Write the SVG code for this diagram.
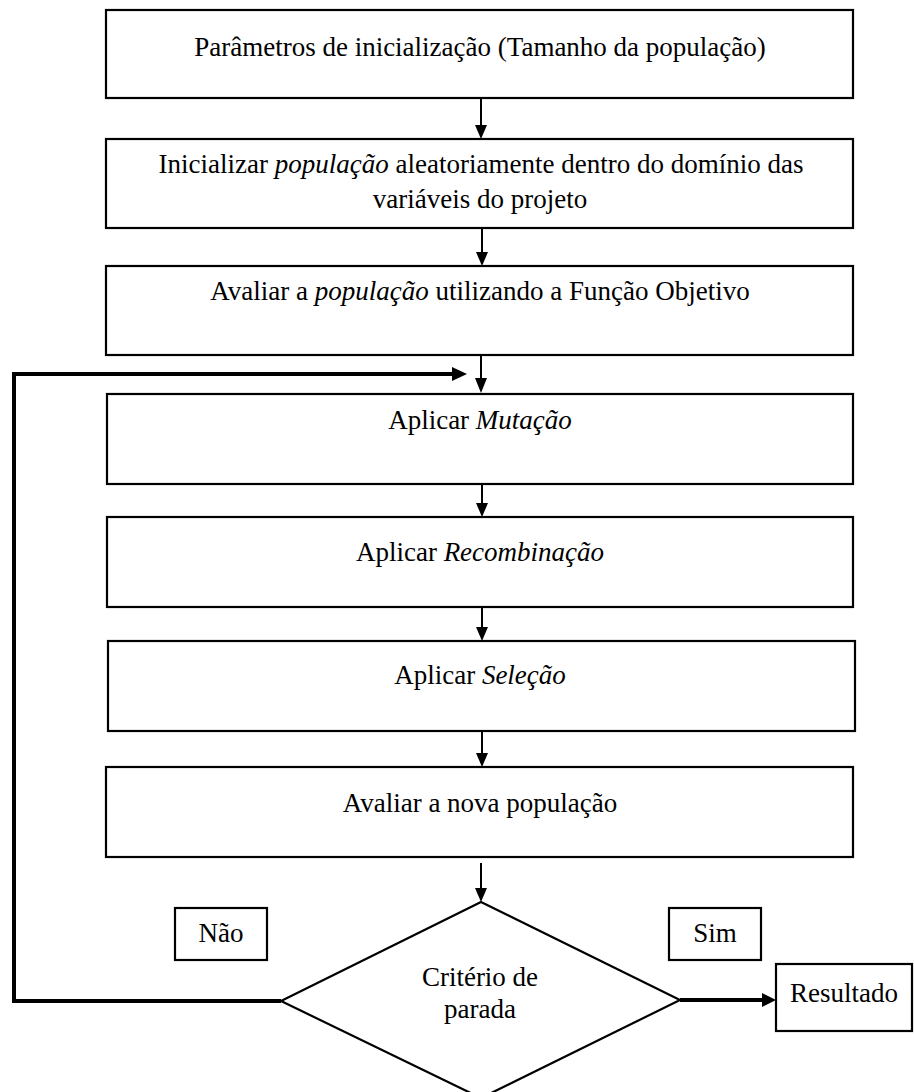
<svg xmlns="http://www.w3.org/2000/svg" width="914" height="1092" viewBox="0 0 914 1092">
<style>
.box{fill:#fff;stroke:#000;stroke-width:2.2}
.t{font-family:'Liberation Serif','Times New Roman','DejaVu Serif',serif;font-size:27px;fill:#000;text-anchor:middle}
.i{font-style:italic}
.c{stroke:#000;stroke-width:2;fill:none}
.k{stroke:#000;stroke-width:4;fill:none}
</style>
<g id="connectors">
<path class="c" d="M481,98 V125"/><path d="M475,125 H487 L481,139 Z"/>
<path class="c" d="M482,228 V252"/><path d="M476,252 H488 L482,266 Z"/>
<path class="c" d="M481,355 V378"/><path d="M475,378 H487 L481,393 Z"/>
<path class="c" d="M482,484 V503"/><path d="M476,503 H488 L482,517 Z"/>
<path class="c" d="M482,607 V627"/><path d="M476,627 H488 L482,641 Z"/>
<path class="c" d="M482,731 V753"/><path d="M476,753 H488 L482,767 Z"/>
<path class="c" d="M481,863 V888"/><path d="M475,888 H487 L481,902 Z"/>
<path class="k" d="M281,1001 H14 V374 H452"/><path d="M452,367 L467,374 L452,381 Z"/>
<path class="k" d="M680,1000 H762"/><path d="M762,993 L776,1000 L762,1007 Z"/>
</g>
<g id="n1"><rect class="box" x="106" y="10" width="747" height="88"/><text class="t" x="480" y="56">Parâmetros de inicialização (Tamanho da população)</text></g>
<g id="n2"><rect class="box" x="106" y="139" width="747" height="89"/><text class="t" x="481" y="173">Inicializar <tspan class="i">população</tspan> aleatoriamente dentro do domínio das</text><text class="t" x="480" y="208">variáveis do projeto</text></g>
<g id="n3"><rect class="box" x="106" y="266" width="747" height="89"/><text class="t" x="480" y="300">Avaliar a <tspan class="i">população</tspan> utilizando a Função Objetivo</text></g>
<g id="n4"><rect class="box" x="107" y="394" width="746" height="90"/><text class="t" x="480" y="429">Aplicar <tspan class="i">Mutação</tspan></text></g>
<g id="n5"><rect class="box" x="107" y="517" width="746" height="90"/><text class="t" x="480" y="561">Aplicar <tspan class="i">Recombinação</tspan></text></g>
<g id="n6"><rect class="box" x="108" y="641" width="747" height="90"/><text class="t" x="480" y="684">Aplicar <tspan class="i">Seleção</tspan></text></g>
<g id="n7"><rect class="box" x="106" y="767" width="747" height="90"/><text class="t" x="480" y="812">Avaliar a nova população</text></g>
<g id="n8"><polygon class="box" points="481,902 680,1000 481,1098 281,1001"/><text class="t" x="480" y="986">Critério de</text><text class="t" x="480" y="1018">parada</text></g>
<g id="nao"><rect class="box" x="175" y="908" width="92" height="52"/><text class="t" x="221" y="942">Não</text></g>
<g id="sim"><rect class="box" x="669" y="908" width="92" height="52"/><text class="t" x="715" y="942">Sim</text></g>
<g id="res"><rect class="box" x="776" y="964" width="136" height="67"/><text class="t" x="844" y="1002">Resultado</text></g>
</svg>
